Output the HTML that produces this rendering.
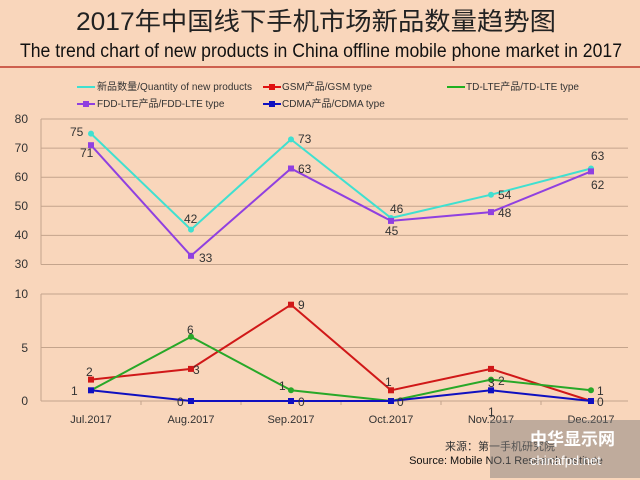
<!DOCTYPE html>
<html><head><meta charset="utf-8"><style>
body{margin:0;background:#f9d6bb;}
svg{display:block;font-family:"Liberation Sans","Noto Sans CJK SC",sans-serif;}
</style></head><body>
<svg width="640" height="480" viewBox="0 0 640 480">
<rect width="640" height="480" fill="#f9d6bb"/>
<text x="316" y="30" font-size="25" text-anchor="middle" fill="#222" textLength="480" lengthAdjust="spacingAndGlyphs">2017年中国线下手机市场新品数量趋势图</text>
<text x="321" y="57" font-size="19" text-anchor="middle" fill="#111" textLength="602" lengthAdjust="spacingAndGlyphs">The trend chart of new products in China offline mobile phone market in 2017</text>
<line x1="0" y1="67" x2="640" y2="67" stroke="#c0392b" stroke-width="1.5"/>
<g font-size="10" fill="#333">
<line x1="77" y1="87" x2="95" y2="87" stroke="#40e0d0" stroke-width="2"/><text x="97" y="90" textLength="155">新品数量/Quantity of new products</text>
<line x1="263" y1="87" x2="281" y2="87" stroke="#e01010" stroke-width="2"/><rect x="269" y="84" width="6" height="6" fill="#e01010"/><text x="282" y="90">GSM产品/GSM type</text>
<line x1="447" y1="87" x2="465" y2="87" stroke="#20b020" stroke-width="2"/><text x="466" y="90">TD-LTE产品/TD-LTE type</text>
<line x1="77" y1="104" x2="95" y2="104" stroke="#9040e0" stroke-width="2"/><rect x="83" y="101" width="6" height="6" fill="#9040e0"/><text x="97" y="107">FDD-LTE产品/FDD-LTE type</text>
<line x1="263" y1="104" x2="281" y2="104" stroke="#1010c0" stroke-width="2"/><rect x="269" y="101" width="6" height="6" fill="#1010c0"/><text x="282" y="107">CDMA产品/CDMA type</text>
</g>
<g stroke="#c4a48c" stroke-width="1">
<line x1="41" y1="119" x2="628" y2="119"/><line x1="41" y1="148.1" x2="628" y2="148.1"/><line x1="41" y1="177.2" x2="628" y2="177.2"/><line x1="41" y1="206.3" x2="628" y2="206.3"/><line x1="41" y1="235.4" x2="628" y2="235.4"/><line x1="41" y1="264.5" x2="628" y2="264.5"/>
<line x1="41" y1="119" x2="41" y2="264.5"/>
<line x1="41" y1="294" x2="628" y2="294"/><line x1="41" y1="347.5" x2="628" y2="347.5"/><line x1="41" y1="401" x2="628" y2="401"/>
<line x1="41" y1="294" x2="41" y2="401"/>
<line x1="141" y1="401" x2="141" y2="405"/><line x1="241" y1="401" x2="241" y2="405"/><line x1="341" y1="401" x2="341" y2="405"/><line x1="441" y1="401" x2="441" y2="405"/><line x1="541" y1="401" x2="541" y2="405"/>
</g>
<g font-size="12" fill="#333" text-anchor="end">
<text x="28" y="123">80</text><text x="28" y="152">70</text><text x="28" y="181">60</text><text x="28" y="210">50</text><text x="28" y="239">40</text><text x="28" y="268">30</text>
<text x="28" y="298">10</text><text x="28" y="352">5</text><text x="28" y="405">0</text>
</g>
<g font-size="11" fill="#333" text-anchor="middle">
<text x="91" y="423">Jul.2017</text><text x="191" y="423">Aug.2017</text><text x="291" y="423">Sep.2017</text><text x="391" y="423">Oct.2017</text><text x="491" y="423">Nov.2017</text><text x="591" y="423">Dec.2017</text>
</g>
<polyline fill="none" stroke="#40e0d0" stroke-width="2" points="91,133.6 191,229.6 291,139.4 391,218 491,194.7 591,168.5"/>
<polyline fill="none" stroke="#9040e0" stroke-width="2" points="91,145.2 191,255.8 291,168.5 391,220.9 491,212.1 591,171.4"/>
<polyline fill="none" stroke="#d01818" stroke-width="2" points="91,379.6 191,368.9 291,304.7 391,390.3 491,368.9 591,401"/>
<polyline fill="none" stroke="#28a828" stroke-width="2" points="91,390.3 191,336.8 291,390.3 391,401 491,379.6 591,390.3"/>
<polyline fill="none" stroke="#1010c0" stroke-width="2" points="91,390.3 191,401 291,401 391,401 491,390.3 591,401"/>
<g fill="#40e0d0"><circle cx="91" cy="133.6" r="3"/><circle cx="191" cy="229.6" r="3"/><circle cx="291" cy="139.4" r="3"/><circle cx="391" cy="218" r="3"/><circle cx="491" cy="194.7" r="3"/><circle cx="591" cy="168.5" r="3"/></g>
<g fill="#9040e0"><rect x="88" y="142.2" width="6" height="6"/><rect x="188" y="252.8" width="6" height="6"/><rect x="288" y="165.5" width="6" height="6"/><rect x="388" y="217.9" width="6" height="6"/><rect x="488" y="209.1" width="6" height="6"/><rect x="588" y="168.4" width="6" height="6"/></g>
<g fill="#d01818"><rect x="88" y="376.6" width="6" height="6"/><rect x="188" y="365.9" width="6" height="6"/><rect x="288" y="301.7" width="6" height="6"/><rect x="388" y="387.3" width="6" height="6"/><rect x="488" y="365.9" width="6" height="6"/><rect x="588" y="398" width="6" height="6"/></g>
<g fill="#28a828"><circle cx="191" cy="336.8" r="3"/><circle cx="291" cy="390.3" r="3"/><circle cx="491" cy="379.6" r="3"/><circle cx="591" cy="390.3" r="3"/></g>
<g fill="#1010c0"><rect x="88" y="387.3" width="6" height="6"/><rect x="188" y="398" width="6" height="6"/><rect x="288" y="398" width="6" height="6"/><rect x="388" y="398" width="6" height="6"/><rect x="488" y="387.3" width="6" height="6"/><rect x="588" y="398" width="6" height="6"/></g>
<g font-size="12" fill="#333">
<text x="70" y="136">75</text><text x="80" y="157">71</text>
<text x="184" y="223">42</text><text x="199" y="262">33</text>
<text x="298" y="143">73</text><text x="298" y="173">63</text>
<text x="390" y="213">46</text><text x="385" y="235">45</text>
<text x="498" y="199">54</text><text x="498" y="217">48</text>
<text x="591" y="160">63</text><text x="591" y="189">62</text>
<text x="86" y="376">2</text><text x="71" y="395">1</text>
<text x="187" y="334">6</text><text x="193" y="374">3</text><text x="177" y="406">0</text>
<text x="298" y="309">9</text><text x="279" y="390">1</text><text x="298" y="406">0</text>
<text x="385" y="386">1</text><text x="397" y="406">0</text>
<text x="488" y="387">3</text><text x="498" y="385">2</text><text x="488" y="416">1</text>
<text x="597" y="395">1</text><text x="597" y="406">0</text>
</g>
<text x="500" y="450" font-size="11" fill="#333" text-anchor="middle">来源：第一手机研究院</text>
<text x="506" y="464" font-size="11" fill="#111" text-anchor="middle">Source: Mobile NO.1 Research Institute</text>
<rect x="490" y="420" width="150" height="58" fill="#777" opacity="0.45"/>
<text x="530" y="445" font-size="17" fill="#fff" font-weight="bold">中华显示网</text>
<text x="530" y="465" font-size="13" fill="#fff">chinafpd.net</text>
</svg>
</body></html>
